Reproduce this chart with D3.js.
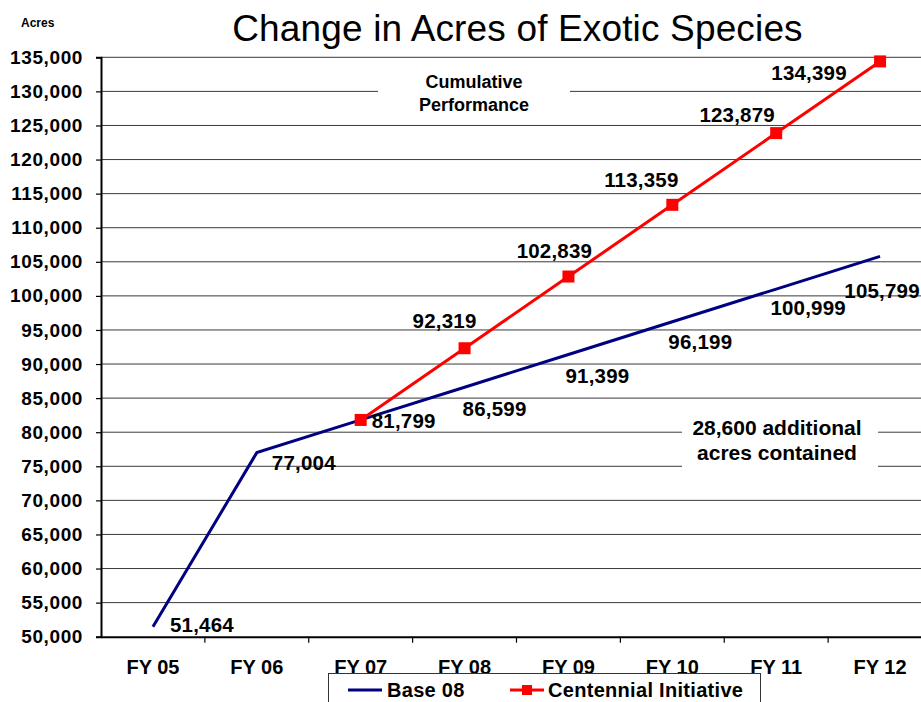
<!DOCTYPE html>
<html>
<head>
<meta charset="utf-8">
<script src="https://cdn.jsdelivr.net/npm/d3@7"></script>
<style>
  html, body { margin: 0; padding: 0; background: #fff; }
  svg { display: block; font-family: "Liberation Sans", Arial, sans-serif; }
</style>
</head>
<body>
<svg id="chart" width="921" height="702"></svg>
<script>
// Fiscal years on the horizontal axis
const categories = ["FY 05", "FY 06", "FY 07", "FY 08", "FY 09", "FY 10", "FY 11", "FY 12"];
// Baseline projection (acres)
const base08 = [51464, 77004, 81799, 86599, 91399, 96199, 100999, 105799];
// Centennial Initiative projection (acres), starts at FY 07
const centennial = [null, null, 81799, 92319, 102839, 113359, 123879, 134399];
// Y axis tick values
const yTicks = d3.range(50000, 135001, 5000);

// Where each value label sits relative to its point (dx, dy)
const baseLabelOffsets = [[49, -2], [47, 10], [43, 1], [30, 22], [29, 21], [28, 20], [32, 19], [2, 34]];
const centLabelOffsets = [null, null, null, [-20, -27], [-14, -26], [-31, -25], [-39, -18], [-71, 11]];

const svg = d3.select("#chart");
const fmt = d3.format(",");

const x = d3.scaleBand().domain(categories).range([101, 932]).paddingInner(0).paddingOuter(0);
const y = d3.scaleLinear().domain([50000, 135000]).range([636.7, 57.3]);
const cx = c => x(c) + x.bandwidth() / 2;

// Title
svg.append("text")
  .attr("x", 517.5).attr("y", 41)
  .attr("text-anchor", "middle")
  .style("font-size", "37px")
  .style("letter-spacing", "0.15px")
  .text("Change in Acres of Exotic Species");

svg.append("text")
  .attr("x", 21).attr("y", 27)
  .style("font-size", "12px").style("font-weight", "bold")
  .text("Acres");

// Horizontal gridlines
svg.append("g")
  .selectAll("line")
  .data(yTicks.filter(t => t > 50000))
  .join("line")
  .attr("x1", 101).attr("x2", 932)
  .attr("y1", d => y(d)).attr("y2", d => y(d))
  .attr("stroke", "#3a3a3a").attr("stroke-width", 1);

// Annotation boxes (white background over the gridlines)
const notes = [
  { lines: ["Cumulative", "Performance"], box: [378, 68, 192, 50], cx: 474, ys: [81.5, 105], size: 18 },
  { lines: ["28,600 additional", "acres contained"], box: [682, 414, 196, 56], cx: 777, ys: [427.5, 453], size: 21 }
];
notes.forEach(n => {
  svg.append("rect")
    .attr("x", n.box[0]).attr("y", n.box[1])
    .attr("width", n.box[2]).attr("height", n.box[3])
    .attr("fill", "#fff");
  n.lines.forEach((t, i) => {
    svg.append("text")
      .attr("x", n.cx).attr("y", n.ys[i])
      .attr("dy", "0.35em")
      .attr("text-anchor", "middle")
      .style("font-size", n.size + "px").style("font-weight", "bold")
      .text(t);
  });
});

// Y axis
const yAxis = svg.append("g")
  .attr("transform", "translate(101,0)")
  .call(d3.axisLeft(y).tickValues(yTicks).tickFormat(fmt).tickSize(5).tickPadding(13));
yAxis.select(".domain").attr("stroke", "#000").attr("stroke-width", 2);
yAxis.selectAll(".tick line").attr("stroke", "#000").attr("stroke-width", 1.2);
yAxis.selectAll("text")
  .attr("fill", "#000")
  .style("font-size", "19px").style("font-weight", "bold")
  .style("letter-spacing", "0.6px")
  .style("font-family", "'Liberation Sans', Arial, sans-serif");

// X axis: labels centred in each band, ticks on band boundaries
const xAxis = svg.append("g")
  .attr("transform", "translate(0,636.7)")
  .call(d3.axisBottom(x).tickSize(0).tickSizeOuter(0));
xAxis.select(".domain").attr("stroke", "#000").attr("stroke-width", 2);
xAxis.selectAll("text")
  .attr("y", 30).attr("dy", "0.35em")
  .attr("fill", "#000")
  .style("font-size", "20px").style("font-weight", "bold")
  .style("font-family", "'Liberation Sans', Arial, sans-serif");
xAxis.selectAll("line.boundary")
  .data(categories.slice(1))
  .join("line")
  .attr("class", "boundary")
  .attr("x1", d => x(d)).attr("x2", d => x(d))
  .attr("y1", 0).attr("y2", 6)
  .attr("stroke", "#000").attr("stroke-width", 1.2);

// Series lines
const baseLine = d3.line()
  .x((d, i) => cx(categories[i]))
  .y(d => y(d));
svg.append("path")
  .datum(base08)
  .attr("d", baseLine)
  .attr("fill", "none")
  .attr("stroke", "#000080")
  .attr("stroke-width", 3);

const centPoints = centennial.map((v, i) => ({ v, c: categories[i], i })).filter(d => d.v !== null);
svg.append("path")
  .datum(centPoints)
  .attr("d", d3.line().x(d => cx(d.c)).y(d => y(d.v)))
  .attr("fill", "none")
  .attr("stroke", "#ff0000")
  .attr("stroke-width", 3);

const ms = 12;
svg.append("g")
  .selectAll("rect")
  .data(centPoints)
  .join("rect")
  .attr("x", d => cx(d.c) - ms / 2)
  .attr("y", d => y(d.v) - ms / 2)
  .attr("width", ms).attr("height", ms)
  .attr("fill", "#ff0000");

// Value labels
const labelStyle = sel => sel
  .attr("text-anchor", "middle").attr("dy", "0.35em")
  .style("font-size", "20.5px").style("font-weight", "bold")
  .style("letter-spacing", "0.2px")
  .attr("fill", "#000");

svg.append("g")
  .selectAll("text")
  .data(base08.map((v, i) => ({ v, i })))
  .join("text")
  .attr("x", d => cx(categories[d.i]) + baseLabelOffsets[d.i][0])
  .attr("y", d => y(d.v) + baseLabelOffsets[d.i][1])
  .call(labelStyle)
  .text(d => fmt(d.v));

svg.append("g")
  .selectAll("text")
  .data(centPoints.filter(d => centLabelOffsets[d.i]))
  .join("text")
  .attr("x", d => cx(d.c) + centLabelOffsets[d.i][0])
  .attr("y", d => y(d.v) + centLabelOffsets[d.i][1])
  .call(labelStyle)
  .text(d => fmt(d.v));

// Legend
const lg = svg.append("g");
lg.append("rect")
  .attr("x", 328.5).attr("y", 673.5)
  .attr("width", 432).attr("height", 40)
  .attr("fill", "#fff").attr("stroke", "#333").attr("stroke-width", 1);
lg.append("line")
  .attr("x1", 348).attr("x2", 382).attr("y1", 690).attr("y2", 690)
  .attr("stroke", "#000080").attr("stroke-width", 3);
lg.append("text")
  .attr("x", 387).attr("y", 690).attr("dy", "0.35em")
  .style("font-size", "20px").style("font-weight", "bold")
  .style("letter-spacing", "0.3px")
  .text("Base 08");
lg.append("line")
  .attr("x1", 510).attr("x2", 544).attr("y1", 690).attr("y2", 690)
  .attr("stroke", "#ff0000").attr("stroke-width", 3);
lg.append("rect")
  .attr("x", 527 - 5).attr("y", 690 - 5)
  .attr("width", 10).attr("height", 10)
  .attr("fill", "#ff0000");
lg.append("text")
  .attr("x", 548).attr("y", 690).attr("dy", "0.35em")
  .style("font-size", "20px").style("font-weight", "bold")
  .style("letter-spacing", "0.3px")
  .text("Centennial Initiative");
</script>
</body>
</html>
